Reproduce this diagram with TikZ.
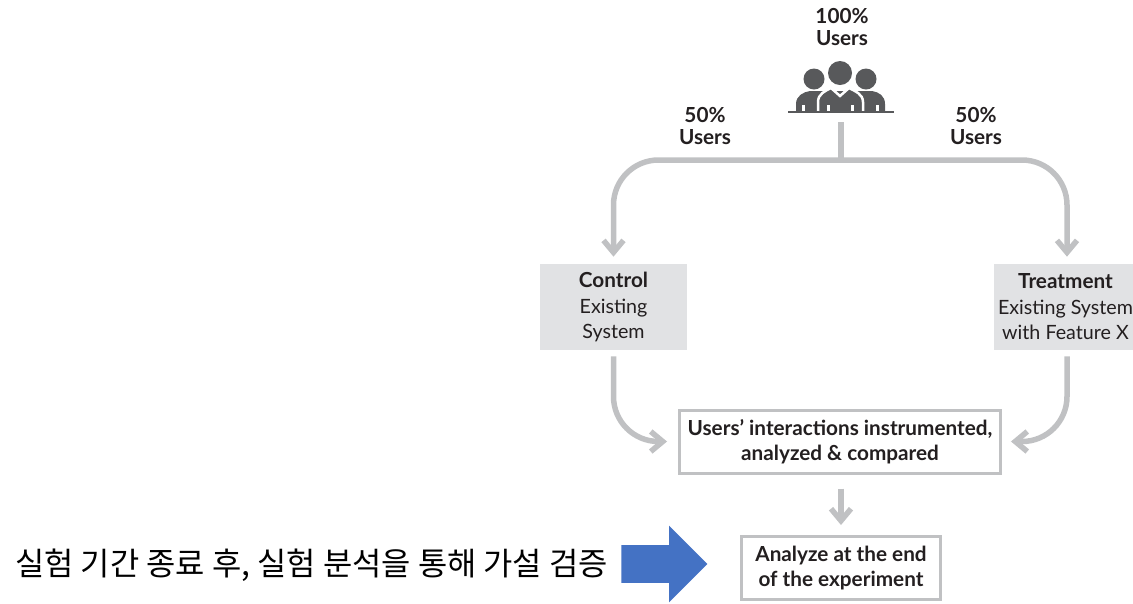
\documentclass[tikz,border=0pt]{standalone}
\usepackage{fontspec}
\setmainfont{Lato}
\newfontfamily\krfont{Noto Sans CJK KR}
\usetikzlibrary{arrows.meta,shapes.arrows}
\definecolor{flowgray}{HTML}{C0C1C3}
\definecolor{boxgray}{HTML}{E1E2E4}
\definecolor{icongray}{HTML}{58595B}
\definecolor{inkblack}{HTML}{231F20}
\definecolor{bigblue}{HTML}{4472C4}
\newcommand{\hd}{\fontsize{11.8}{14.4}\bfseries\selectfont}
\tikzset{
  txt/.style={align=center,text=inkblack,inner sep=0pt,font=\fontsize{11.2}{14.5}\selectfont},
  share/.style={txt,font=\fontsize{11.8}{12.3}\bfseries\selectfont},
  group/.style={txt,fill=boxgray,minimum height=1.72cm},
  stage/.style={txt,draw=flowgray,line width=0.06cm,fill=white,font=\hd},
  flow/.style={draw=flowgray,line width=0.11cm,-{Straight Barb[length=0.24cm,width=0.4cm]}},
}
\begin{document}
\begin{tikzpicture}[x=0.02cm,y=-0.02cm]
\useasboundingbox (0,0) rectangle (1133,603);
% top labels
 \node[share] (all) at (842,27) {100\%\\Users};
 \node[share] (halfL) at (705,126) {50\%\\Users};
 \node[share] (halfR) at (976,126) {50\%\\Users};
% people icon
 \fill[icongray] (840,73) circle (12);
 \fill[icongray] (814,79) circle (10.5);
 \fill[icongray] (866,79) circle (10.5);
 \fill[icongray] (796,112) -- (796,104) .. controls (796,96) and (803,92) .. (810,91) -- (872,91) .. controls (879,92) and (885,96) .. (885,104) -- (885,112) -- cycle;
 \filldraw[fill=icongray,draw=white,line width=0.05cm] (818,114) -- (818,102) .. controls (818,94) and (825,91) .. (831,88) -- (840,96) -- (849,88) .. controls (855,91) and (863,94) .. (863,102) -- (863,114) -- cycle;
 \fill[white] (802,105) rectangle (805,112);
 \fill[white] (827,105) rectangle (830,112);
 \fill[white] (851,105) rectangle (854,112);
 \fill[white] (876,105) rectangle (879,112);
 \draw[icongray,line width=0.03cm] (788,112)--(894,112);
% boxes
 \node[group,minimum width=2.94cm] (control) at (613.5,307) {{\hd Control}\\Existing\\System};
 \node[group,minimum width=2.86cm] (treatment) at (1065.5,307) {{\hd Treatment}\\Existing System\\with Feature X};
 \node[stage,minimum width=6.42cm,minimum height=1.26cm] (results) at (840,441.5) {Users’ interactions instrumented,\\analyzed \& compared};
 \node[stage,minimum width=3.98cm,minimum height=1.26cm] (analyze) at (841,568) {Analyze at the end\\of the experiment};
% connectors
 \coordinate (trunk) at (841,122);
 \coordinate (split) at (841,160);
 \draw[draw=flowgray,line width=0.11cm] (trunk)--(split);
 \draw[flow,rounded corners=0.9cm,shorten >=0.14cm] (split) -| (control.north);
 \draw[flow,rounded corners=0.9cm,shorten >=0.14cm] (split) -| ([xshift=0.03cm]treatment.north);
 \draw[flow,rounded corners=0.9cm,shorten <=0.12cm,shorten >=0.22cm] (control.south) |- (results.west);
 \draw[flow,rounded corners=0.9cm,shorten <=0.12cm,shorten >=0.18cm] ([xshift=0.03cm]treatment.south) |- (results.east);
 \draw[flow,shorten <=0.28cm,shorten >=0.2cm] ([xshift=0.02cm]results.south) -- (analyze.north);
% korean caption and big arrow
 \node[anchor=west,inner sep=0pt,text=black,font=\krfont\fontsize{18.1}{20}\selectfont] (caption) at (15,565) {실험 기간 종료 후, 실험 분석을 통해 가설 검증};
 \node[single arrow,fill=bigblue,inner xsep=0pt,inner ysep=0.37cm,minimum height=1.72cm,single arrow head extend=0.39cm,single arrow tip angle=90] (bigarrow) at (655,564) {};
 \end{tikzpicture}
\end{document}
